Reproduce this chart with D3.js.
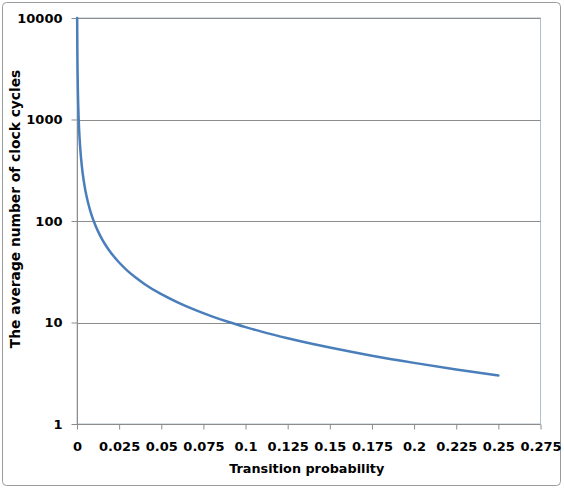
<!DOCTYPE html>
<html>
<head>
<meta charset="utf-8">
<script src="https://cdn.jsdelivr.net/npm/d3@7"></script>
<style>
  html, body { margin: 0; padding: 0; background: #ffffff; }
  svg { display: block; }
</style>
</head>
<body>
<svg id="chart" width="564" height="489"></svg>
<script>
// ---- data ----
const xTickValues = [0, 0.025, 0.05, 0.075, 0.1, 0.125, 0.15, 0.175, 0.2, 0.225, 0.25, 0.275];
const xTickLabels = ["0", "0.025", "0.05", "0.075", "0.1", "0.125", "0.15", "0.175", "0.2", "0.225", "0.25", "0.275"];
const yTickValues = [1, 10, 100, 1000, 10000];
const yTickLabels = ["1", "10", "100", "1000", "10000"];
const probability = [0.0001, 0.00015, 0.0002, 0.0003, 0.0005, 0.0007, 0.001, 0.0015, 0.002, 0.003, 0.004, 0.005, 0.0065, 0.008, 0.01, 0.0125, 0.015, 0.0175, 0.02, 0.025, 0.03, 0.035, 0.04, 0.05, 0.06, 0.07, 0.08, 0.09, 0.1, 0.11, 0.125, 0.14, 0.15, 0.175, 0.2, 0.225, 0.25];
const avgCycles = [9999, 6666, 4999, 3332, 1999, 1428, 999, 666, 499, 332, 249, 199, 153, 124, 99, 79, 65.7, 56.1, 49, 39, 32.3, 27.6, 24, 19, 15.7, 13.3, 11.5, 10.1, 9, 8.09, 7, 6.14, 5.67, 4.71, 4, 3.44, 3];
const xTitle = "Transition probability";
const yTitle = "The average number of clock cycles";

// ---- layout ----
const svg = d3.select("#chart");
const plot = { left: 77, right: 540.5, top: 18, bottom: 424 };
const FONT = "'DejaVu Sans', sans-serif";

// outer chart border
svg.append("rect")
  .attr("x", 2.5).attr("y", 2.5).attr("width", 558).attr("height", 483)
  .attr("rx", 4).attr("fill", "#ffffff").attr("stroke", "#9a9a9a").attr("stroke-width", 1);

const x = d3.scaleLinear().domain([0, 0.275]).range([plot.left, plot.right]);
const y = d3.scaleLog().domain([1, 10000]).range([plot.bottom, plot.top]);

// plot-area border (top/right)
svg.append("rect")
  .attr("x", plot.left).attr("y", plot.top)
  .attr("width", plot.right - plot.left).attr("height", plot.bottom - plot.top)
  .attr("fill", "none").attr("stroke", "#b3bfcf").attr("stroke-width", 1);

// horizontal gridlines
svg.append("g").selectAll("line").data(yTickValues.slice(1)).join("line")
  .attr("x1", plot.left).attr("x2", plot.right)
  .attr("y1", d => Math.round(y(d)) + 0.5).attr("y2", d => Math.round(y(d)) + 0.5)
  .attr("stroke", "#8c8c8c").attr("stroke-width", 1);

// x axis
const xAxis = d3.axisBottom(x).tickValues(xTickValues)
  .tickFormat((d, i) => xTickLabels[i]).tickSize(5).tickPadding(12);
const gx = svg.append("g").attr("transform", `translate(0,${Math.round(plot.bottom) + 0.5})`).call(xAxis);
gx.select(".domain").attr("stroke", "#8c8c8c").attr("d", `M${plot.left - 5},0H${plot.right}`);
gx.selectAll(".tick line").attr("stroke", "#8c8c8c");
gx.selectAll(".tick text").attr("font-family", FONT).attr("font-weight", "bold")
  .attr("font-size", 13).attr("fill", "#000");

// y axis
const yAxis = d3.axisLeft(y).tickValues(yTickValues)
  .tickFormat((d, i) => yTickLabels[i]).tickSize(6).tickPadding(9);
const gy = svg.append("g").attr("transform", `translate(${Math.round(plot.left) + 0.5},0)`).call(yAxis);
gy.select(".domain").attr("stroke", "#8c8c8c").attr("d", `M0,${plot.top}V${plot.bottom}`);
gy.selectAll(".tick line").attr("stroke", "#8c8c8c");
gy.selectAll(".tick text").attr("font-family", FONT).attr("font-weight", "bold")
  .attr("font-size", 13).attr("fill", "#000");

// series line
const pts = probability.map((p, i) => [p, avgCycles[i]]);
const line = d3.line().x(d => x(d[0])).y(d => y(d[1])).curve(d3.curveMonotoneX);
svg.append("path").datum(pts)
  .attr("d", line).attr("fill", "none")
  .attr("stroke", "#4a7ebb").attr("stroke-width", 2.5)
  .attr("stroke-linejoin", "round").attr("stroke-linecap", "round");

// axis titles
svg.append("text")
  .attr("x", (plot.left + plot.right) / 2 - 2).attr("y", 473)
  .attr("text-anchor", "middle").attr("font-family", FONT).attr("font-weight", "bold")
  .attr("font-size", 12.8).attr("fill", "#000").text(xTitle);

svg.append("text")
  .attr("transform", `translate(20,${(plot.top + plot.bottom) / 2 - 12}) rotate(-90)`)
  .attr("text-anchor", "middle").attr("font-family", FONT).attr("font-weight", "bold")
  .attr("font-size", 13.8).attr("fill", "#000").text(yTitle);
</script>
</body>
</html>
